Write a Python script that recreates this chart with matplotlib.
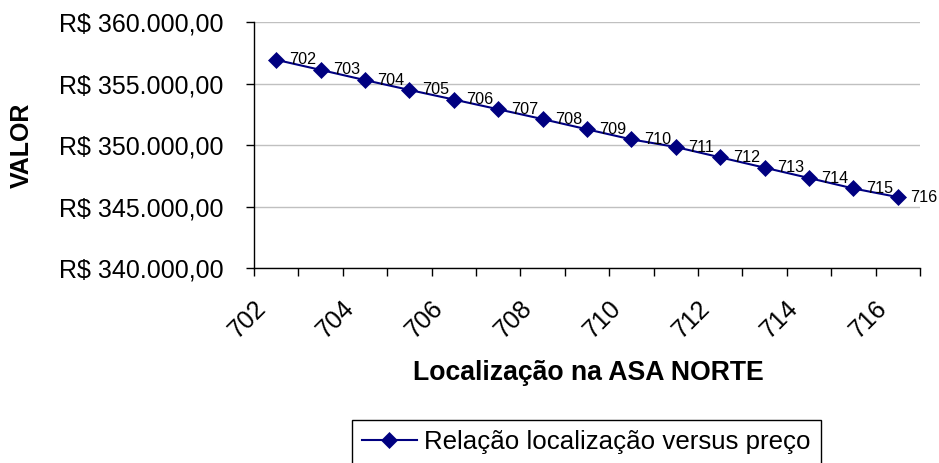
import matplotlib
matplotlib.use('Agg')
import matplotlib.pyplot as plt
from matplotlib.ticker import FuncFormatter
from matplotlib.transforms import ScaledTranslation

categories = ['702', '703', '704', '705', '706', '707', '708', '709',
              '710', '711', '712', '713', '714', '715', '716']
values = [356950, 356130, 355300, 354500, 353720, 352930, 352130, 351300,
          350480, 349860, 349020, 348180, 347340, 346490, 345790]
y_ticks = [340000, 345000, 350000, 355000, 360000]
series_name = 'Relação localização versus preço'
x_title = 'Localização na ASA NORTE'
y_title = 'VALOR'

plt.rcParams['font.family'] = ['Liberation Sans', 'DejaVu Sans']

W, H = 939, 463
fig = plt.figure(figsize=(W / 100, H / 100), dpi=100)
ax = fig.add_axes([254 / W, 1 - 268.3 / H, (920 - 254) / W, (268.3 - 22.3) / H])

navy = '#000080'
x = list(range(len(categories)))
line, = ax.plot(x, values, color=navy, lw=1.5, marker='D', ms=8,
                mec=navy, mfc=navy, mew=0.5, label=series_name,
                clip_on=False, zorder=3)
for xi, v, c in zip(x, values, categories):
    ax.annotate(c, (xi, v), xytext=(9, 0), textcoords='offset points',
                ha='left', va='center', fontsize=11.6, color='black',
                annotation_clip=False)

ax.set_xlim(-0.5, len(categories) - 0.5)
ax.set_ylim(y_ticks[0], y_ticks[-1])
ax.set_yticks(y_ticks)


def brl(v, pos):
    s = f"{v:,.2f}"
    s = s.replace(',', 'X').replace('.', ',').replace('X', '.')
    return 'R$ ' + s


ax.yaxis.set_major_formatter(FuncFormatter(brl))
ax.set_xticks(x[::2])
ax.set_xticklabels(categories[::2], rotation=45, ha='center', va='top',
                   fontsize=18)
ax.set_xticks([i - 0.5 for i in range(len(categories) + 1)], minor=True)
ax.tick_params(axis='x', which='major', length=0, pad=20)
ax.tick_params(axis='x', which='minor', length=5.8, width=1.0, color='black')
ax.tick_params(axis='y', which='major', length=5.8, width=1.0,
               labelsize=18, pad=16, color='black')
for lab in ax.get_xticklabels():
    lab.set_transform(lab.get_transform() +
                      ScaledTranslation(-29 / 100, 0, fig.dpi_scale_trans))

ax.grid(axis='y', color='#c0c0c0', lw=1.0)
ax.set_axisbelow(True)
for s in ['top', 'right']:
    ax.spines[s].set_visible(False)
for s in ['left', 'bottom']:
    ax.spines[s].set_color('black')
    ax.spines[s].set_linewidth(1.0)

fig.text(588 / W, 1 - 373 / H, x_title, ha='center', va='center',
         fontsize=19.2, fontweight='bold')
fig.text(22 / W, 1 - 145 / H, y_title, ha='center', va='center',
         fontsize=18, fontweight='bold', rotation=90)

leg = fig.legend(handles=[line], loc='upper left',
                 bbox_to_anchor=(352 / W, 1 - 420 / H), frameon=True,
                 fancybox=False, edgecolor='black', fontsize=18.6,
                 borderpad=0.4, handlelength=2.1, handletextpad=0.3,
                 borderaxespad=0, framealpha=1, numpoints=1)
leg.get_frame().set_linewidth(1.0)

fig.savefig('out.png', dpi=100)
